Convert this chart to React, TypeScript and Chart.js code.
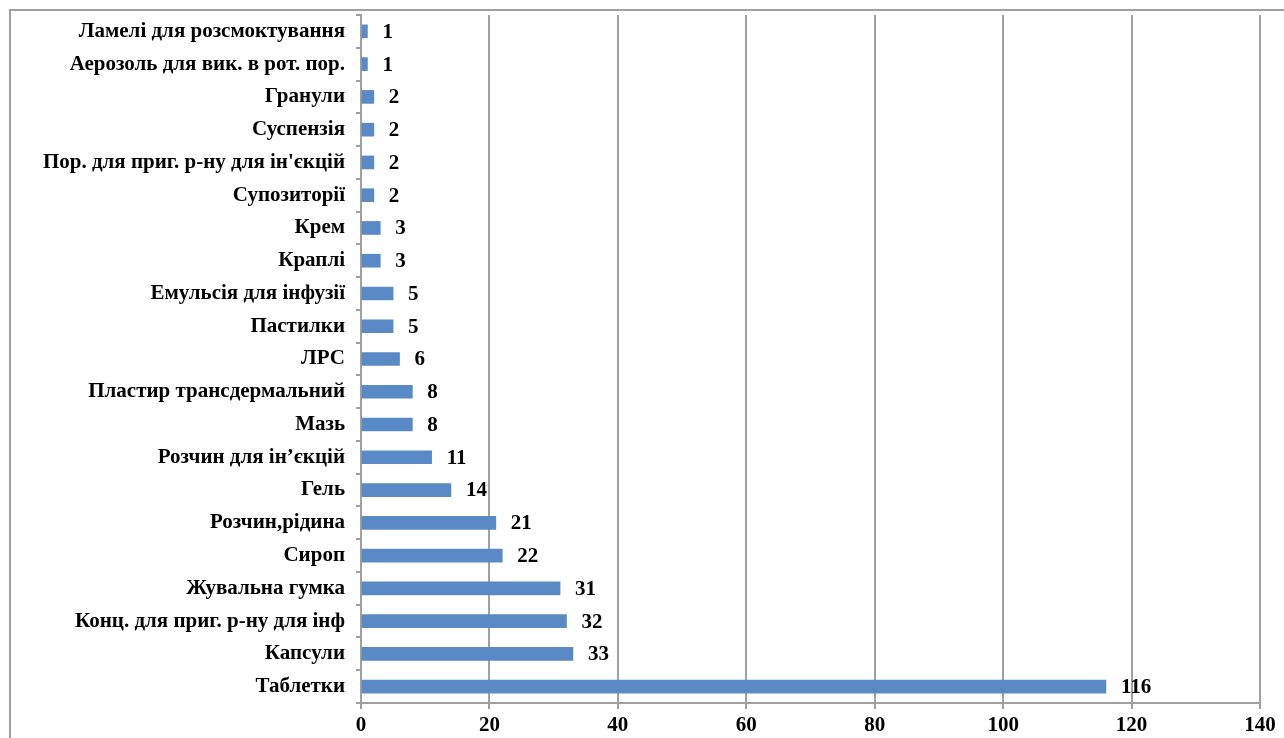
import React, { useEffect, useRef } from "react";
import { Chart, registerables } from "chart.js";

Chart.register(...registerables);

const categories = [
  "Ламелі для розсмоктування",
  "Аерозоль для вик. в рот. пор.",
  "Гранули",
  "Суспензія",
  "Пор. для приг. р-ну для ін'єкцій",
  "Супозиторії",
  "Крем",
  "Краплі",
  "Емульсія для інфузії",
  "Пастилки",
  "ЛРС",
  "Пластир трансдермальний",
  "Мазь",
  "Розчин для ін’єкцій",
  "Гель",
  "Розчин,рідина",
  "Сироп",
  "Жувальна гумка",
  "Конц. для приг. р-ну для інф",
  "Капсули",
  "Таблетки",
];

const values = [1, 1, 2, 2, 2, 2, 3, 3, 5, 5, 6, 8, 8, 11, 14, 21, 22, 31, 32, 33, 116];

const xTicks = [0, 20, 40, 60, 80, 100, 120, 140];

const FONT = '"Liberation Serif", "Times New Roman", serif';
const FONT_SIZE = 21;

const valueLabels = {
  id: "valueLabels",
  afterDatasetsDraw(chart: any) {
    const ctx = chart.ctx;
    const meta = chart.getDatasetMeta(0);
    ctx.save();
    ctx.font = `bold ${FONT_SIZE}px ${FONT}`;
    ctx.fillStyle = "#000";
    ctx.textAlign = "left";
    ctx.textBaseline = "middle";
    meta.data.forEach((bar: any, i: number) => {
      ctx.fillText(String(values[i]), bar.x + 15, bar.y + 1);
    });
    ctx.restore();
  },
};

export default function App() {
  const ref = useRef<HTMLCanvasElement | null>(null);

  useEffect(() => {
    if (!ref.current) return;
    const chart = new Chart(ref.current, {
      type: "bar",
      data: {
        labels: categories,
        datasets: [
          {
            data: values,
            backgroundColor: "#5A8AC6",
            barThickness: 13,
          },
        ],
      },
      options: {
        indexAxis: "y",
        animation: false,
        responsive: false,
        devicePixelRatio: 1,
        layout: { padding: { top: 4, right: 24, left: 0, bottom: 0 } },
        plugins: {
          legend: { display: false },
          tooltip: { enabled: false },
        },
        scales: {
          x: {
            min: 0,
            max: 140,
            afterBuildTicks(scale: any) {
              scale.ticks = xTicks.map((v) => ({ value: v }));
            },
            afterFit(scale: any) {
              scale.height = 35;
            },
            grid: {
              color: "#A0A0A0",
              lineWidth: 2,
              drawTicks: true,
              tickLength: 6,
              tickColor: "#A0A0A0",
            },
            border: { display: true, color: "#A0A0A0", width: 2 },
            ticks: {
              color: "#000",
              padding: 4,
              font: { family: FONT, size: FONT_SIZE, weight: "bold" },
            },
          },
          y: {
            afterFit(scale: any) {
              scale.width = 350;
              scale.paddingTop = 0;
              scale.paddingBottom = 0;
            },
            grid: {
              offset: true,
              drawOnChartArea: false,
              drawTicks: true,
              tickLength: 5,
              tickColor: "#A0A0A0",
              lineWidth: 2,
            },
            border: { display: true, color: "#A0A0A0", width: 2 },
            ticks: {
              color: "#000",
              padding: 11,
              autoSkip: false,
              font: { family: FONT, size: FONT_SIZE, weight: "bold" },
            },
          },
        },
      },
      plugins: [valueLabels],
    });
    return () => chart.destroy();
  }, []);

  return (
    <div
      style={{
        position: "absolute",
        left: 9,
        top: 9,
        width: 1300,
        height: 760,
        border: "2px solid #A0A0A0",
        background: "#fff",
      }}
    >
      <canvas ref={ref} width={1273} height={727} style={{ display: "block" }} />
    </div>
  );
}
